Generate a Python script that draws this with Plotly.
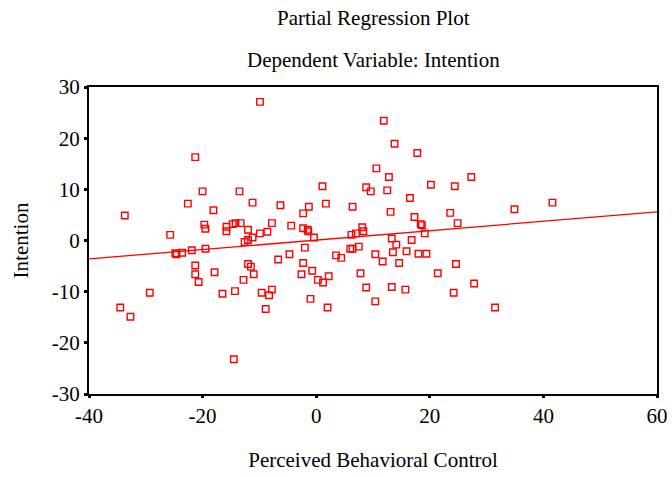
import plotly.graph_objects as go

pbc = [-21.3, -20.0, -13.5, -22.6, -18.1, -33.7, -19.7, -19.5, -15.8, -15.8,
       -14.7, -14.2, -25.7, -24.8, -24.6, -23.6, -21.9, -19.5, -21.3, -21.3,
       -17.9, -20.7, -29.3, -16.5, -14.3, -34.5, -32.7, -14.5, -9.9, 10.6,
       1.1, 8.8, 9.6, -11.2, -6.3, 1.7, -1.3, -2.3, 6.4, -13.3,
       -12.0, -7.8, -8.6, -9.9, -11.2, -12.0, -12.6, -4.4, -2.3, -1.5,
       -1.4, -0.4, 8.1, 8.3, 6.2, 7.0, -2.0, 6.0, 6.4, 7.5,
       -4.7, -6.7, -2.3, 3.5, 4.4, 10.4, -12.0, -11.5, -11.0, -12.8,
       -2.6, -0.7, 0.3, 1.2, 2.2, 7.8, 8.8, 10.4, -9.6, -8.3,
       -7.8, -1.0, -8.9, 2.0, 11.9, 13.8, 17.8, 12.8, 27.3, 12.5,
       20.2, 24.4, 16.5, 13.1, 17.3, 23.6, 34.9, 18.4, 18.6, 24.9,
       19.1, 13.3, 16.8, 14.1, 13.5, 15.9, 18.0, 19.4, 11.7, 14.6,
       24.6, 21.4, 27.8, 13.3, 15.7, 24.2, 31.5, 41.6]
intention = [16.3, 9.6, 9.6, 7.2, 5.9, 4.9, 3.1, 2.3, 2.7, 1.8,
             3.2, 3.4, 1.1, -2.5, -2.7, -2.4, -1.9, -1.6, -4.9, -6.6,
             -6.2, -8.1, -10.2, -10.4, -9.9, -13.1, -14.9, -23.2, 27.1, 14.1,
             10.6, 10.4, 9.6, 7.4, 6.9, 7.2, 6.6, 5.3, 6.6, 3.4,
             2.1, 3.4, 1.7, 1.4, 0.6, 0.1, -0.3, 2.9, 2.4, 2.1,
             1.8, 0.6, 2.6, 1.8, 1.1, 1.4, -1.4, -1.6, -1.6, -1.2,
             -2.7, -3.7, -4.4, -2.9, -3.4, -2.7, -4.6, -5.1, -6.6, -7.7,
             -6.6, -5.9, -7.7, -8.2, -7.0, -6.4, -9.2, -11.9, -10.2, -10.7,
             -9.6, -11.4, -13.4, -13.1, 23.4, 18.9, 17.1, 12.4, 12.4, 9.8,
             10.9, 10.6, 8.3, 5.6, 4.6, 5.4, 6.1, 3.2, 3.0, 3.4,
             1.4, 0.4, 0.1, -0.8, -2.3, -2.1, -2.6, -2.6, -4.1, -4.4,
             -4.6, -6.4, -8.4, -9.1, -9.6, -10.2, -13.1, 7.4]

fit_x = [-40, 60]
fit_y = [-3.6, 5.6]

x_ticks = [-40, -20, 0, 20, 40, 60]
y_ticks = [-30, -20, -10, 0, 10, 20, 30]

FONT = "Liberation Serif"
FS = 21

fig = go.Figure()
fig.add_trace(go.Scatter(x=fit_x, y=fit_y, mode="lines",
                         line=dict(color="#ff0000", width=1.3),
                         hoverinfo="skip", showlegend=False))
fig.add_trace(go.Scatter(x=pbc, y=intention, mode="markers",
                         marker=dict(symbol="square-open", size=6.5,
                                     color="#ff0000", line=dict(width=1.4)),
                         showlegend=False))

fig.update_layout(
    width=672, height=477,
    margin=dict(l=89, r=15, t=87, b=83),
    paper_bgcolor="white", plot_bgcolor="white",
    font=dict(family=FONT, size=FS, color="black"),
    xaxis=dict(range=[-40, 60], tickvals=x_ticks, ticktext=[str(v) for v in x_ticks],
               showgrid=False, zeroline=False, showline=True, mirror=True,
               linecolor="black", linewidth=2, ticks="outside", ticklen=2,
               tickwidth=3, tickcolor="black", automargin=False,
               tickfont=dict(size=FS),
               title=dict(text="Perceived Behavioral Control", standoff=25,
                          font=dict(size=FS))),
    yaxis=dict(range=[-30, 30], tickvals=y_ticks, ticktext=[str(v) for v in y_ticks],
               showgrid=False, zeroline=False, showline=True, mirror=True,
               linecolor="black", linewidth=2, ticks="outside", ticklen=3,
               tickwidth=3, tickcolor="black", automargin=False,
               tickfont=dict(size=FS),
               title=dict(text="Intention", standoff=17, font=dict(size=FS))),
    annotations=[
        dict(text="Partial Regression Plot", x=0.5, y=18, xref="paper", yref="paper",
             showarrow=False, font=dict(size=FS)),
        dict(text="Dependent Variable: Intention", x=0.5, y=60, xref="paper",
             yref="paper", showarrow=False, font=dict(size=FS)),
    ],
)
# convert annotation pixel y positions to paper coordinates
plot_h = 477 - 87 - 83
for ann in fig.layout.annotations:
    py = ann.y
    ann.y = (477 - 83 - py) / plot_h
    ann.yanchor = "middle"

fig.write_html("out.html")
